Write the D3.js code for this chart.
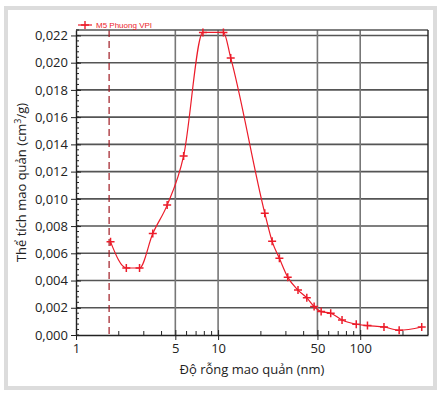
<!DOCTYPE html>
<html lang="vi">
<head>
<meta charset="utf-8">
<title>Phan bo mao quan</title>
<script src="https://cdn.jsdelivr.net/npm/d3@7/dist/d3.min.js"></script>
<style>
  body { margin: 0; background: #fff; }
  text { font-family: "Open Sans", "Noto Sans", sans-serif; fill: #222; }
</style>
</head>
<body>
<script>
// do rong mao quan (nm) va the tich mao quan (cm3/g)
var poreWidth = [1.75, 2.26, 2.80, 3.47, 4.38, 5.72, 7.82, 10.9, 12.27, 21.3, 24.0, 27.0, 30.9,
                 36.5, 42.1, 47.4, 53.1, 62.0, 74.5, 93.8, 112.5, 147, 188, 271];
var poreVolume = [0.00684, 0.00492, 0.00492, 0.00745, 0.00954, 0.01315, 0.02222, 0.02222, 0.02035,
                  0.00895, 0.00688, 0.00563, 0.00425, 0.0033, 0.00273, 0.00209, 0.00172, 0.0016,
                  0.0011, 0.00079, 0.00069, 0.00059, 0.00035, 0.00059];
var xTickValues = [1, 5, 10, 50, 100];
var xGridValues = [5, 10, 50, 100];
var yTickValues = [0, 0.002, 0.004, 0.006, 0.008, 0.010, 0.012, 0.014, 0.016, 0.018, 0.020, 0.022];
var dashedAt = 1.71;
var seriesName = "M5 Phuong VPI";

var W = 441, H = 394;
var pLeft = 76, pRight = 428, pTop = 30, pBottom = 335;

var svg = d3.select("body").append("svg").attr("width", W).attr("height", H);

// khung xam ngoai
svg.append("rect").attr("x", 6).attr("y", 8).attr("width", 429).attr("height", 380)
  .attr("fill", "none").attr("stroke", "#dcdcdc").attr("stroke-width", 4);

var x = d3.scaleLog().domain([1, 300]).range([pLeft, pRight]);
var y = d3.scaleLinear().domain([0, 0.0224]).range([pBottom, pTop]);

// luoi ngang
svg.append("g").selectAll("line").data(yTickValues.slice(1)).enter().append("line")
  .attr("x1", pLeft).attr("x2", pRight)
  .attr("y1", function(d) { return y(d); }).attr("y2", function(d) { return y(d); })
  .attr("stroke", "#555").attr("stroke-width", 1.6);

// luoi doc
svg.append("g").selectAll("line").data(xGridValues).enter().append("line")
  .attr("y1", pTop).attr("y2", pBottom)
  .attr("x1", function(d) { return x(d); }).attr("x2", function(d) { return x(d); })
  .attr("stroke", "#777").attr("stroke-width", 1.6);

// duong net dut
svg.append("line").attr("x1", x(dashedAt)).attr("x2", x(dashedAt))
  .attr("y1", pTop).attr("y2", pBottom)
  .attr("stroke", "#a01c24").attr("stroke-width", 1.2).attr("stroke-dasharray", "7,4");

// khung do thi
svg.append("line").attr("x1", pLeft).attr("x2", pRight).attr("y1", pTop).attr("y2", pTop)
  .attr("stroke", "#555").attr("stroke-width", 1.6);
svg.append("line").attr("x1", pRight).attr("x2", pRight).attr("y1", pTop).attr("y2", pBottom)
  .attr("stroke", "#222").attr("stroke-width", 1.4);

// truc x
var minorX = [2, 3, 4, 6, 7, 8, 9, 20, 30, 40, 60, 70, 80, 90, 200];
var gx = svg.append("g").attr("transform", "translate(0," + pBottom + ")");
gx.call(d3.axisBottom(x).tickValues(xTickValues).tickFormat(d3.format("d"))
  .tickSizeInner(5).tickSizeOuter(0).tickPadding(4));
gx.selectAll(".tick line").attr("y1", -5).attr("stroke", "#222");
gx.selectAll(".tick text").attr("font-size", 13).style("font-family", "'Open Sans', sans-serif").attr("fill", "#222");
gx.select(".domain").attr("stroke", "#222").attr("stroke-width", 1.4);
gx.selectAll(".minor").data(minorX).enter().append("line").attr("class", "minor")
  .attr("x1", function(d) { return x(d); }).attr("x2", function(d) { return x(d); })
  .attr("y1", 0).attr("y2", -4).attr("stroke", "#222");

// truc y
var minorY = d3.range(0, 0.02241, 0.0004);
var gy = svg.append("g").attr("transform", "translate(" + pLeft + ",0)");
gy.call(d3.axisLeft(y).tickValues(yTickValues)
  .tickFormat(function(d) { return d3.format(".3f")(d).replace(".", ","); })
  .tickSizeInner(5).tickSizeOuter(0).tickPadding(3));
gy.selectAll(".tick line").attr("x2", 5).attr("x1", -5).attr("stroke", "#222");
gy.selectAll(".tick text").attr("font-size", 13).style("font-family", "'Open Sans', sans-serif").attr("fill", "#222");
gy.select(".domain").attr("stroke", "#222").attr("stroke-width", 1.4);
gy.selectAll(".minor").data(minorY).enter().append("line").attr("class", "minor")
  .attr("x1", 0).attr("x2", 3)
  .attr("y1", function(d) { return y(d); }).attr("y2", function(d) { return y(d); })
  .attr("stroke", "#222");

// duong du lieu
var pts = poreWidth.map(function(d, i) { return [d, poreVolume[i]]; });
var line = d3.line().x(function(d) { return x(d[0]); }).y(function(d) { return y(d[1]); })
  .curve(d3.curveMonotoneX);
svg.append("path").datum(pts).attr("d", line)
  .attr("fill", "none").attr("stroke", "#ec1c2a").attr("stroke-width", 1.2);

svg.append("g").selectAll("path").data(pts).enter().append("path")
  .attr("transform", function(d) { return "translate(" + x(d[0]) + "," + y(d[1]) + ")"; })
  .attr("d", "M-4,0H4M0,-4V4")
  .attr("stroke", "#ec1c2a").attr("stroke-width", 1.5);

// chu giai
var lg = svg.append("g").attr("transform", "translate(78,25)");
lg.append("line").attr("x1", 0).attr("x2", 14).attr("stroke", "#ec1c2a").attr("stroke-width", 1.2);
lg.append("path").attr("d", "M3,0H11M7,-4V4").attr("stroke", "#ec1c2a").attr("stroke-width", 1.4);
lg.append("text").attr("x", 18).attr("y", 3).attr("font-size", 8)
  .style("fill", "#ec1c2a").style("font-family", "Arial, 'Liberation Sans', sans-serif").text(seriesName);

// tieu de truc
svg.append("text").attr("x", (pLeft + pRight) / 2).attr("y", 374).attr("text-anchor", "middle")
  .attr("font-size", 13).text("Độ rỗng mao quản (nm)");
var yt = svg.append("text").attr("transform", "translate(26," + ((pTop + pBottom) / 2) + ") rotate(-90)")
  .attr("text-anchor", "middle").attr("font-size", 13);
yt.append("tspan").text("Thể tích mao quản (cm");
yt.append("tspan").attr("font-size", 9).attr("dy", -5).text("3");
yt.append("tspan").attr("dy", 5).text("/g)");
</script>
</body>
</html>
